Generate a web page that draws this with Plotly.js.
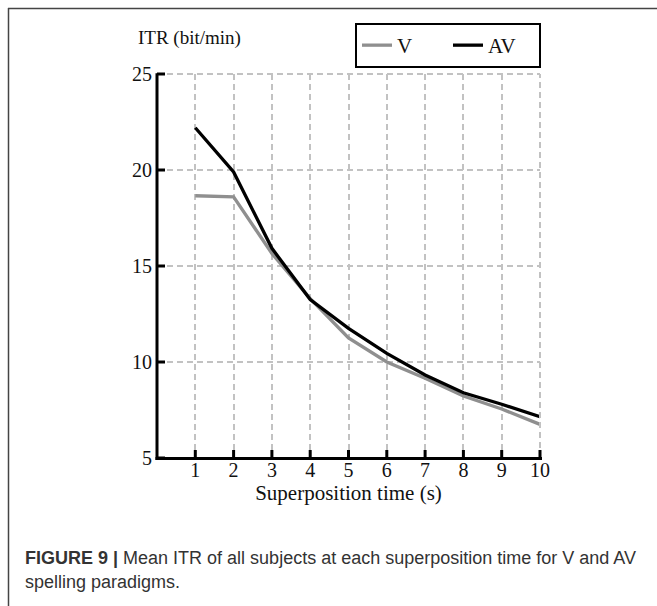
<!DOCTYPE html>
<html>
<head>
<meta charset="utf-8">
<script src="https://cdn.plot.ly/plotly-3.0.1.min.js"></script>
<style>html,body{margin:0;padding:0;background:#fff;}#chart{width:657px;height:606px;}</style>
</head>
<body>
<div id="chart"></div>
<script>
const superpositionTime = [1, 2, 3, 4, 5, 6, 7, 8, 9, 10];
const itrV  = [18.66, 18.6, 15.65, 13.3, 11.25, 10.0, 9.15, 8.23, 7.55, 6.75];
const itrAV = [22.2, 19.9, 15.92, 13.25, 11.75, 10.45, 9.32, 8.4, 7.8, 7.15];
const seriesNames = ['V', 'AV'];
const xTicks = [1, 2, 3, 4, 5, 6, 7, 8, 9, 10];
const yTicks = [5, 10, 15, 20, 25];
const xRange = [0, 10];
const yRange = [5, 25];
const captionBold = 'FIGURE 9 |';
const captionLine1 = ' Mean ITR of all subjects at each superposition time for V and AV';
const captionLine2 = 'spelling paradigms.';

const W = 657, H = 606;
const L = 157, R = 540, T = 74, B = 458;
const px = x => (x - L) / (R - L);
const py = y => (B - y) / (B - T);
const fx = v => (v - xRange[0]) / (xRange[1] - xRange[0]);
const fy = v => (v - yRange[0]) / (yRange[1] - yRange[0]);
const serif = 'Liberation Serif, Times New Roman, serif';
const sans = 'Liberation Sans, Arial, sans-serif';

const traces = [
  {x: superpositionTime, y: itrV, name: seriesNames[0], mode: 'lines',
   line: {color: '#8f8f8f', width: 3.3}},
  {x: superpositionTime, y: itrAV, name: seriesNames[1], mode: 'lines',
   line: {color: '#000000', width: 3.3}}
];

const gridColor = '#c2c2c2';
const gridDash = '6px,4px';
const axisCommon = {
  showline: false, ticks: '',
  showgrid: true, gridcolor: gridColor, gridwidth: 2, griddash: gridDash,
  zeroline: false,
  tickfont: {family: serif, size: 20, color: '#111'}
};

const shapes = [];
const pline = (x0, y0, x1, y1, color, width, dash) => shapes.push({
  type: 'line', xref: 'paper', yref: 'paper', x0: x0, y0: y0, x1: x1, y1: y1,
  line: {color: color, width: width, dash: dash || 'solid'}});
// outer figure frame
pline(px(8), py(8.5), px(657), py(8.5), '#444', 1.5);
pline(px(8.5), py(8), px(8.5), py(606), '#444', 1.5);
// dashed grid lines at the far ends of the ranges (Plotly omits grid lines at the range ends)
pline(0, fy(yRange[1]), 1, fy(yRange[1]), gridColor, 2, gridDash);
pline(fx(xRange[1]), 0, fx(xRange[1]), 1, gridColor, 2, gridDash);
// axis lines
pline(0, py(460), 0, 1.002, '#000', 3);
pline(px(155.5), py(458.5), px(542), py(458.5), '#000', 3);
// inside ticks
xTicks.forEach(v => pline(fx(v), py(458), fx(v), py(450), '#000', 3));
yTicks.forEach(v => pline(0, fy(v), px(165), fy(v), '#000', 3));

const layout = {
  width: W, height: H,
  margin: {l: L, r: W - R, t: T, b: H - B, pad: 0},
  paper_bgcolor: '#fff', plot_bgcolor: '#fff',
  showlegend: true,
  legend: {
    orientation: 'h', x: px(355), y: py(23), xanchor: 'left', yanchor: 'top',
    bordercolor: '#000', borderwidth: 2, bgcolor: '#fff',
    font: {family: serif, size: 21, color: '#111'},
    entrywidth: 46, entrywidthmode: 'pixels', itemwidth: 30, tracegroupgap: 0
  },
  xaxis: Object.assign({}, axisCommon, {
    range: xRange, tickvals: xTicks, ticktext: xTicks.map(String), ticklabelstandoff: -2,
    title: {text: 'Superposition time (s)', font: {family: serif, size: 21, color: '#111'}, standoff: 3}
  }),
  yaxis: Object.assign({}, axisCommon, {
    range: yRange, tickvals: yTicks, ticktext: yTicks.map(String), ticklabelstandoff: 4
  }),
  shapes: shapes,
  annotations: [
    {text: 'ITR (bit/min)', xref: 'paper', yref: 'paper', x: px(136), y: py(38),
     xanchor: 'left', yanchor: 'middle', showarrow: false,
     font: {family: serif, size: 19, color: '#111'}},
    {text: '<b>' + captionBold + '</b>' + captionLine1, xref: 'paper', yref: 'paper',
     x: px(23), y: py(558), xanchor: 'left', yanchor: 'middle', showarrow: false, align: 'left',
     font: {family: sans, size: 18, color: '#333'}},
    {text: captionLine2, xref: 'paper', yref: 'paper',
     x: px(23), y: py(582), xanchor: 'left', yanchor: 'middle', showarrow: false, align: 'left',
     font: {family: sans, size: 18, color: '#333'}}
  ]
};

Plotly.newPlot('chart', traces, layout, {displayModeBar: false, staticPlot: true});
</script>
</body>
</html>
